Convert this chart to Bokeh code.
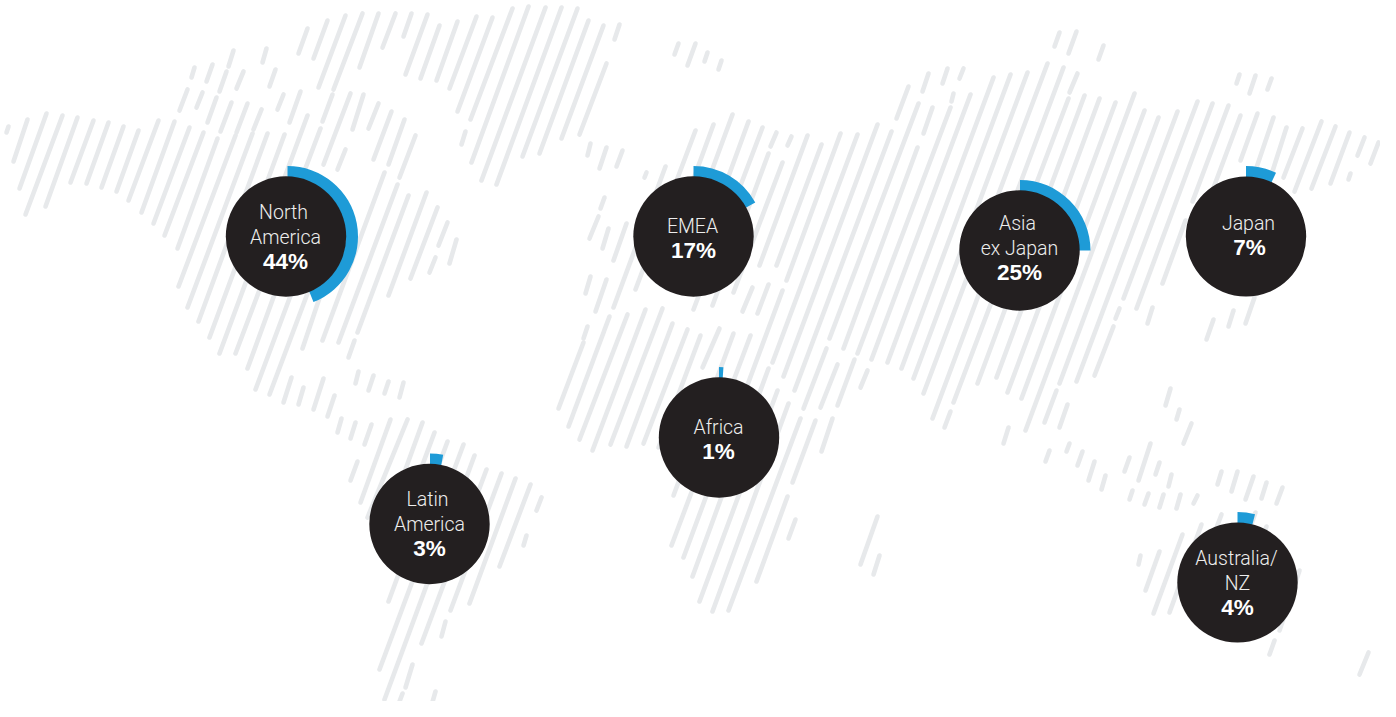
from math import pi
from bokeh.plotting import figure
from bokeh.models import Range1d, ColumnDataSource
from bokeh.core.properties import value
from bokeh.embed import file_html
from bokeh.resources import INLINE

IMG_H = 717

regions = ["North America", "EMEA", "Asia ex Japan", "Japan", "Africa", "Latin America", "Australia/NZ"]
shares = [44, 17, 25, 7, 1, 3, 4]
label_lines = [["North", "America"], ["EMEA"], ["Asia", "ex Japan"], ["Japan"], ["Africa"], ["Latin", "America"], ["Australia/", "NZ"]]
centers_x = [285.5, 693, 1019, 1245.5, 718.5, 429, 1237]
centers_y = [236, 236, 250, 236, 437, 523.5, 582]
arc_x = [287, 693, 1019.5, 1245.5, 718.5, 429.5, 1237]
label_x = [[283, 285, 285], [692, 693], [1017, 1019, 1019], [1248, 1249], [718, 718], [427, 429, 429], [1236, 1237, 1237]]
label_y = [[212, 237, 262], [226, 251], [223, 248, 273], [223, 248], [427, 452], [499, 524, 549], [558, 583, 608]]

# Map stripes: (top x, top y, bottom x, bottom y)
stripes_north_america = [
    (8,126,6,132),(27,119,13,161),(46,113,19,188),(62,115,25,214),(77,117,45,206),(93,120,70,182),
    (108,122,86,183),(123,126,101,187),(138,130,116,191),(158,120,128,200),(174,121,141,212),(189,127,153,223),
    (203,132,164,235),(217,138,177,248),(235,135,178,286),(252,133,187,307),(267,133,198,321),(284,134,209,337),
    (307,115,219,353),(320,128,235,353),(290,250,247,368),(305,255,255,389),(310,285,269,394),
    (291,377,283,402),(303,387,298,404),(323,378,313,409),(334,395,327,416),(341,418,337,432),
    (307,28,298,53),(327,20,313,58),(345,15,318,87),(362,13,333,89),(378,13,359,67),(395,13,382,47),(411,13,403,36),
    (233,50,228,66),(266,48,262,62),(194,67,191,77),(212,64,206,81),(226,71,219,91),(243,71,236,88),(275,69,269,86),
    (187,89,179,110),(202,92,196,107),(216,97,207,122),(231,102,220,131),(247,103,236,132),(261,109,253,129),
    (283,94,277,109),(300,91,289,122),(332,94,322,121),(350,93,323,164),(363,94,352,129),(378,103,368,128),
    (391,111,373,159),(404,119,388,164),(415,135,399,177),(345,149,337,169),(340,235,302,348),
    (384,172,322,340),(397,184,338,342),(408,195,357,332),(354,340,348,357),(426,192,388,295),(437,207,410,278),
    (447,222,438,245),(456,239,449,263),(435,257,429,272),
    (358,371,355,383),(373,375,368,390),(388,381,384,393),(403,382,399,397),
]
stripes_greenland = [
    (427,14,405,74),(439,25,420,78),(457,21,436,80),(476,16,449,88),(492,17,457,111),(512,8,470,119),
    (528,6,471,162),(545,7,481,180),(561,7,496,184),(577,8,522,156),(588,20,539,153),(603,25,561,138),
    (606,63,579,134),(619,24,614,39),(465,131,461,144),
]
stripes_latin_america = [
    (355,422,350,438),(371,424,364,444),(390,419,360,502),(407,419,367,517),(357,461,350,480),(422,422,381,535),
    (434,432,392,545),(447,441,388,601),(463,444,379,669),(474,455,384,699),(486,469,421,643),(501,473,450,610),
    (515,478,469,603),(530,484,499,566),(541,497,536,510),(526,535,523,545),(445,621,441,636),(412,664,405,687),
    (402,693,396,709),(435,691,431,705),(413,707,409,717),
]
stripes_europe = [
    (678,43,674,54),(695,43,687,65),(707,52,704,61),(721,60,718,69),(590,143,587,155),(606,147,599,168),
    (622,150,616,166),(646,172,644,177),(665,166,613,307),(695,130,635,289),(604,197,600,208),(598,216,589,238),
    (608,228,602,248),(626,223,613,260),(590,276,585,293),(606,279,595,311),
    (713,124,665,255),(732,114,680,255),(748,121,690,280),(762,127,693,309),(776,132,770,146),(791,136,787,145),
    (768,153,712,305),(782,162,733,292),(807,135,759,265),(821,144,776,265),(752,287,742,311),(768,284,757,313),
]
stripes_africa = [
    (587,326,583,338),(583,342,558,408),(609,316,568,426),(627,314,579,439),(645,309,592,450),(662,308,610,444),
    (672,323,626,446),(687,329,643,443),(700,335,658,447),(719,328,702,367),(733,333,673,495),(750,335,671,545),
    (782,290,683,557),(768,368,692,576),(777,390,699,601),(788,403,712,611),(800,418,728,610),(815,420,792,482),
    (832,418,821,451),(787,496,756,581),(795,519,788,538),(877,516,860,564),(879,555,873,574),
]
stripes_asia = [
    (840,133,786,280),(857,134,772,362),(877,124,783,376),(891,131,794,390),(826,348,803,408),(837,364,820,407),
    (854,359,837,405),(867,370,860,387),(918,103,829,338),(917,147,843,348),(950,107,857,353),(970,94,871,359),
    (993,77,887,362),(1010,74,901,368),(1027,72,913,378),(1047,63,923,393),(908,86,896,118),(932,107,923,133),
    (953,93,951,101),(928,73,922,91),(947,68,942,83),(963,68,959,78),(1063,67,932,418),(1068,98,953,402),
    (1084,95,977,383),(1099,98,996,377),(1115,102,1007,392),(1134,93,1021,398),(1144,110,1025,430),
    (1158,117,1059,383),(1177,111,1076,381),(1197,101,1123,298),(1212,103,1136,308),(1228,105,1192,201),
    (1185,220,1162,283),(950,411,944,427),(1008,427,1003,443),(1059,32,1054,46),(1076,31,1068,53),(1103,45,1098,59),
    (1077,73,1069,92),(1119,308,1115,318),(1152,307,1147,323),(1113,326,1094,375),(1213,319,1206,339),
    (1233,310,1228,326),(1254,297,1245,323),(1056,390,1044,422),(1067,404,1059,427),(1240,115,1212,190),
    (1257,113,1240,160),(1273,117,1255,170),(1286,127,1270,177),(1302,128,1283,177),(1321,121,1294,191),
    (1335,126,1311,188),(1349,132,1330,183),(1364,137,1357,155),(1378,142,1370,163),(1394,147,1385,167),
    (1350,173,1348,179),(1239,74,1236,83),(1255,75,1249,93),(1271,78,1267,89),
]
stripes_oceania = [
    (1170,388,1165,405),(1179,409,1176,419),(1191,423,1183,443),(1069,443,1066,451),(1049,450,1045,461),
    (1082,451,1077,465),(1094,461,1088,480),(1105,475,1101,489),(1129,457,1124,471),(1150,443,1138,480),
    (1159,462,1155,474),(1171,474,1168,486),(1221,471,1217,484),(1237,471,1231,491),(1253,476,1245,499),
    (1266,482,1261,498),(1282,487,1276,503),(1132,490,1129,499),(1148,493,1144,504),(1163,494,1159,507),
    (1180,494,1176,508),(1197,495,1193,503),(1255,512,1240,555),(1221,514,1205,556),(1201,524,1169,612),
    (1182,534,1153,613),(1159,551,1145,590),(1140,555,1138,564),(1266,526,1255,556),(1299,570,1279,630),
    (1274,640,1269,654),(1396,620,1387,644),(1368,652,1359,674),
]

GREY = "#E7E9EB"
INK = "#231F20"
BLUE = "#1E9BD7"

p = figure(width=1380, height=701, output_backend="svg", toolbar_location=None,
           x_range=Range1d(0, 1380), y_range=Range1d(IMG_H - 701, IMG_H),
           min_border=0, outline_line_color=None, background_fill_color="white")
p.axis.visible = False
p.grid.visible = False

all_stripes = (stripes_north_america + stripes_greenland + stripes_latin_america + stripes_europe
               + stripes_africa + stripes_asia + stripes_oceania)
p.segment(x0=[s[0] for s in all_stripes], y0=[IMG_H - s[1] for s in all_stripes],
          x1=[s[2] for s in all_stripes], y1=[IMG_H - s[3] for s in all_stripes],
          line_color=GREY, line_width=4.6, line_cap="round")

arc_src = ColumnDataSource(dict(
    x=arc_x, y=[IMG_H - c for c in centers_y],
    start=[pi / 2] * len(shares),
    end=[pi / 2 - 2 * pi * v / 100 for v in shares],
))
p.annular_wedge(x="x", y="y", inner_radius=58, outer_radius=70.5, start_angle="start", end_angle="end",
                direction="clock", source=arc_src, fill_color=BLUE, line_color=None)

p.circle(x=centers_x, y=[IMG_H - c for c in centers_y], radius=60.2, fill_color=INK, line_color=None)

name_t, name_x, name_y = [], [], []
pct_t, pct_x, pct_y = [], [], []
for lines, v, xs, ys in zip(label_lines, shares, label_x, label_y):
    for t, x, y in zip(lines, xs, ys):
        name_t.append(t); name_x.append(x); name_y.append(IMG_H - y)
    pct_t.append(f"{v}%"); pct_x.append(xs[-1]); pct_y.append(IMG_H - ys[-1] + 1)

p.text(x=name_x, y=name_y, text=name_t, text_font=value("Roboto Light"), text_font_size="19.5px",
       text_color="#EDEDED", text_align="center", text_baseline="middle")
p.text(x=pct_x, y=pct_y, text=pct_t, text_font=value("Liberation Sans"), text_font_style="bold",
       text_font_size="22.5px", text_color="#FFFFFF", text_align="center", text_baseline="middle")

open("out.html", "w").write(file_html(p, INLINE))
